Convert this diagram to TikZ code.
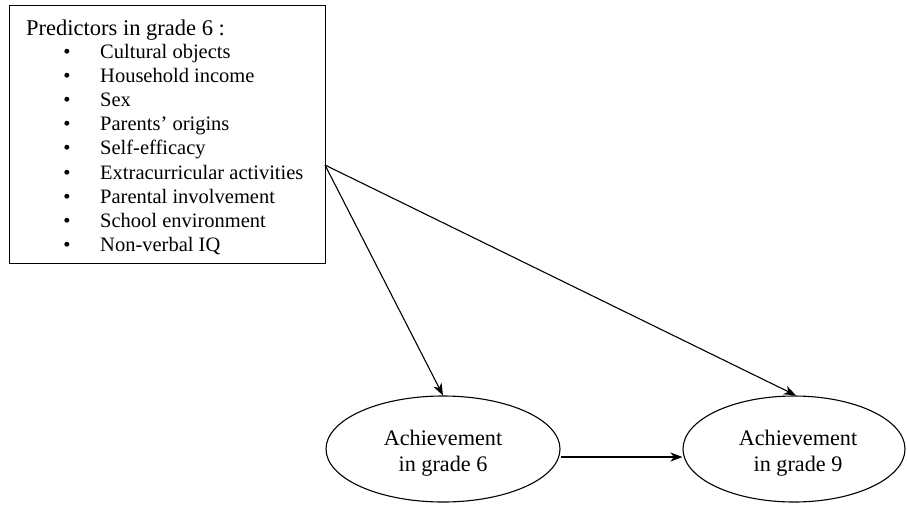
\documentclass[tikz,border=0pt]{standalone}
\usepackage{fontspec}
\setmainfont{Liberation Serif}
\usetikzlibrary{arrows.meta,shapes.geometric}
\tikzset{
  lbl/.style={inner sep=0pt, anchor=base west, font=\fontsize{20.5}{24}\selectfont},
  ttl/.style={inner sep=0pt, anchor=base west, font=\fontsize{22.5}{26}\selectfont},
  ctr/.style={inner sep=0pt, anchor=base, font=\fontsize{22.2}{26}\selectfont},
  bul/.style={inner sep=0pt, anchor=base, font=\fontsize{20.5}{24}\selectfont},
  oval/.style={draw, ellipse, inner sep=0pt, line width=1.1pt},
  arr/.style={line width=1.1pt, -{Stealth[length=12pt,width=9pt,inset=3.5pt]}},
}
\begin{document}
\begin{tikzpicture}[x=1pt,y=-1pt]
\useasboundingbox (0,0) rectangle (907,504);
\node[draw, line width=1.2pt, minimum width=316pt, minimum height=258pt, inner sep=0pt, anchor=north west] (pred) at (9,5) {};
\node[ttl] (t0) at (26,35.7) {Predictors in grade 6 :};
\foreach \i/\t in {0/Cultural objects,1/Household income,2/Sex,3/Parents’ origins,4/Self-efficacy,5/Extracurricular activities,6/Parental involvement,7/School environment,8/Non-verbal IQ}{
  \node[bul] (b\i) at (67,58+24.2*\i) {•};
  \node[lbl] (i\i) at (100,58+24.2*\i) {\t};
}
\node[oval, minimum width=234pt, minimum height=106pt] (e1) at (443,449) {};
\node[oval, minimum width=222pt, minimum height=106pt] (e2) at (794,449) {};
\node[ctr] (e1a) at (443,445) {Achievement};
\node[ctr] (e1b) at (443,471) {in grade 6};
\node[ctr] (e2a) at (798,445) {Achievement};
\node[ctr] (e2b) at (798,471) {in grade 9};
\coordinate (src) at (325,165);
\draw[arr] (src) -- (e1.north);
\draw[arr] (src) -- ([xshift=2pt]e2.north);
\draw[arr] ([yshift=-8pt]e1.east) -- ([yshift=-8pt]e2.west);
\end{tikzpicture}
\end{document}
